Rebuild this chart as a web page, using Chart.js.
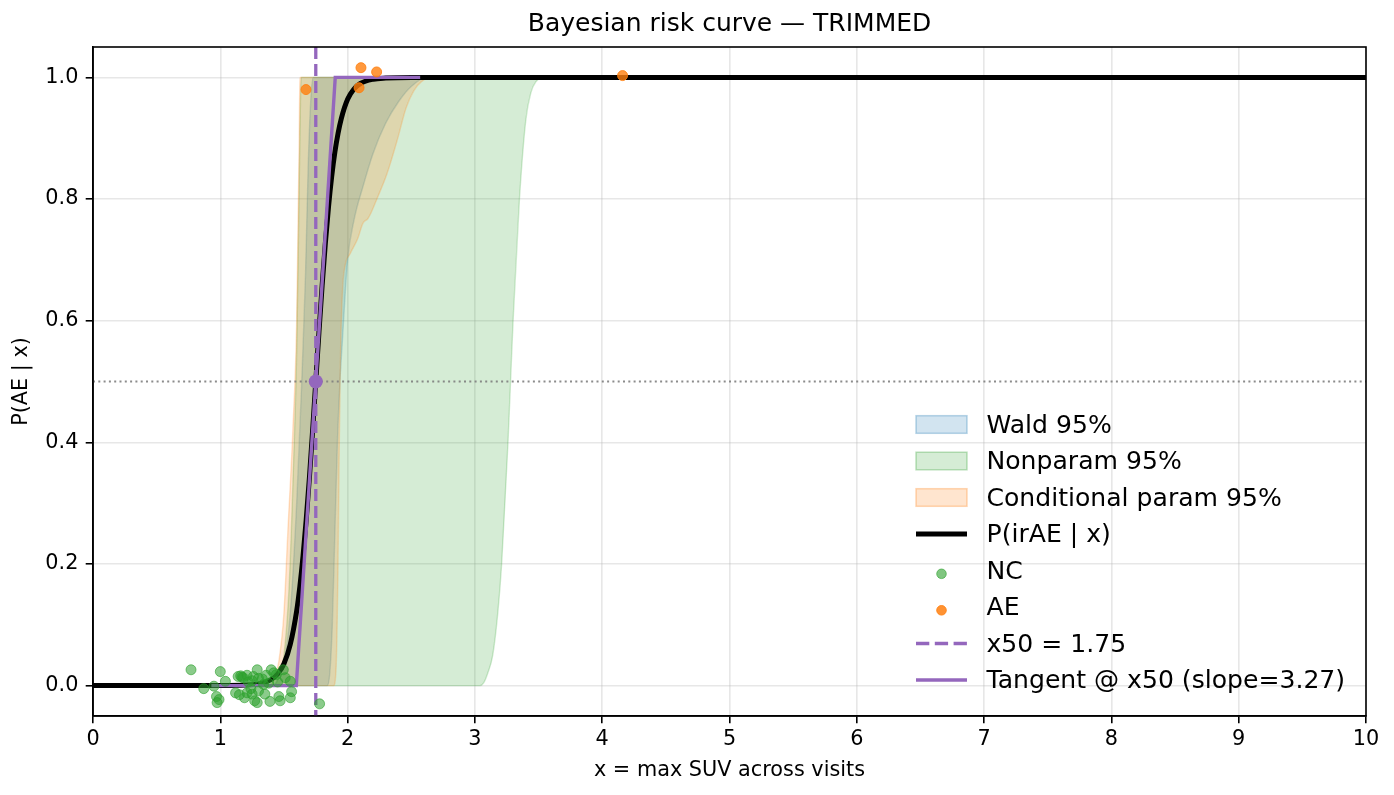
<!DOCTYPE html>
<html>
<head>
<meta charset="utf-8">
<script src="https://cdn.jsdelivr.net/npm/chart.js@4.4.1/dist/chart.umd.min.js"></script>
<style>
  html, body { margin: 0; padding: 0; background: #fff; }
  #wrap { position: relative; width: 1394px; height: 795px; overflow: hidden; }
  #c { position: absolute; left: 0; top: 0; }
  #handles { position: absolute; left: 0; top: 0; pointer-events: none; }
  .lg { position: absolute; left: 986.5px; height: 30px; line-height: 30px;
        font-family: "DejaVu Sans"; font-size: 25.1px; color: #000; white-space: nowrap; }
</style>
</head>
<body>
<div id="wrap">
  <canvas id="c" width="1394" height="795"></canvas>
  <svg id="handles" width="1394" height="795"></svg>
</div>
<script>
// ---------------- data ----------------
const titleText = "Bayesian risk curve — TRIMMED";
const xLabel = "x = max SUV across visits";
const yLabel = "P(AE | x)";
const xLimits = [0, 10];
const yLimits = [-0.05, 1.05];
const xTicks = [0, 1, 2, 3, 4, 5, 6, 7, 8, 9, 10];
const yTicks = [0.0, 0.2, 0.4, 0.6, 0.8, 1.0];

const x50 = 1.75;
const slopeAtX50 = 3.27;
const halfLevel = 0.5;

// posterior mean risk curve P(irAE | x)
const riskCurve = [
  [0, 0], [1.0, 0.0001], [1.2, 0.0008], [1.3, 0.0028], [1.35, 0.0053], [1.4, 0.010],
  [1.45, 0.019], [1.5, 0.036], [1.55, 0.068], [1.6, 0.123], [1.625, 0.163], [1.65, 0.213],
  [1.675, 0.273], [1.7, 0.342], [1.725, 0.419], [1.75, 0.5], [1.775, 0.581], [1.8, 0.658],
  [1.825, 0.727], [1.85, 0.787], [1.875, 0.837], [1.9, 0.877], [1.925, 0.908], [1.95, 0.932],
  [2.0, 0.964], [2.05, 0.981], [2.1, 0.990], [2.2, 0.997], [2.3, 0.999], [2.5, 1.0], [10, 1.0]
];

// Wald 95% band
const waldUpper = [
  [0, 0], [1.40, 0], [1.45, 0.01], [1.50, 0.04], [1.55, 0.12], [1.60, 0.30], [1.64, 0.50],
  [1.67, 0.68], [1.69, 0.85], [1.71, 0.96], [1.73, 1.0], [10, 1.0]
];
const waldLower = [
  [0, 0], [1.84, 0], [1.86, 0.02], [1.88, 0.10], [1.90, 0.25], [1.92, 0.40], [1.94, 0.50],
  [1.96, 0.57], [1.98, 0.64], [2.00, 0.70], [2.05, 0.765], [2.12, 0.82], [2.20, 0.875],
  [2.30, 0.925], [2.40, 0.96], [2.50, 0.985], [2.62, 1.0], [10, 1.0]
];

// Nonparametric 95% band
const nonparUpper = [
  [0, 0], [1.42, 0], [1.46, 0.015], [1.50, 0.05], [1.54, 0.16], [1.57, 0.33], [1.60, 0.55],
  [1.615, 0.75], [1.625, 0.90], [1.635, 1.0], [10, 1.0]
];
const nonparLower = [
  [0, 0], [3.04, 0], [3.07, 0.005], [3.10, 0.02], [3.14, 0.05], [3.18, 0.12], [3.21, 0.20],
  [3.26, 0.40], [3.28, 0.50], [3.30, 0.60], [3.35, 0.80], [3.40, 0.93], [3.44, 0.975],
  [3.48, 0.993], [3.55, 1.0], [10, 1.0]
];

// Conditional parametric 95% band
const condUpper = [
  [0, 0], [1.38, 0], [1.42, 0.01], [1.46, 0.04], [1.50, 0.12], [1.53, 0.25], [1.57, 0.42],
  [1.60, 0.60], [1.61, 0.75], [1.62, 0.90], [1.625, 1.0], [10, 1.0]
];
const condLower = [
  [0, 0], [1.89, 0], [1.91, 0.03], [1.925, 0.20], [1.935, 0.40], [1.945, 0.55], [1.96, 0.65],
  [1.98, 0.69], [2.02, 0.71], [2.08, 0.735], [2.12, 0.76], [2.16, 0.768], [2.19, 0.78],
  [2.23, 0.80], [2.31, 0.842], [2.39, 0.897], [2.46, 0.95], [2.52, 0.978], [2.58, 0.993],
  [2.67, 1.0], [10, 1.0]
];

// tangent at x50 (clipped to [0,1])
const tangentLine = [[0.93, 0], [1.597, 0], [1.903, 1], [2.57, 1]];

// observations (y jittered around 0 / 1)
const ncPoints = [
  [0.77, 0.026], [1.00, 0.023], [0.87, -0.005], [0.95, -0.001], [1.04, 0.007], [0.97, -0.018],
  [0.99, -0.023], [0.975, -0.028], [1.12, -0.012], [1.14, 0.015], [1.15, -0.015], [1.16, 0.016],
  [1.17, 0.014], [1.18, 0.013], [1.19, -0.020], [1.21, 0.017], [1.21, -0.012], [1.22, 0.006],
  [1.24, -0.005], [1.25, 0.008], [1.25, -0.014], [1.26, 0.015], [1.27, -0.025], [1.29, 0.026],
  [1.29, -0.028], [1.30, 0.012], [1.30, -0.009], [1.33, 0.011], [1.34, 0.002], [1.35, -0.014],
  [1.36, 0.017], [1.38, 0.004], [1.39, -0.026], [1.40, 0.026], [1.42, 0.021], [1.44, 0.018],
  [1.45, 0.006], [1.46, -0.018], [1.47, -0.025], [1.495, 0.026], [1.51, 0.013], [1.55, 0.007],
  [1.55, -0.020], [1.56, -0.010], [1.78, -0.030]
];
const aePoints = [[1.673, 0.980], [2.09, 0.983], [2.105, 1.016], [2.228, 1.009], [4.16, 1.003]];

// ---------------- colours ----------------
const C_BLUE = [31, 119, 180], C_GREEN = [44, 160, 44], C_ORANGE = [255, 127, 14];
const PURPLE = '#9467bd';
const rgba = (c, a) => `rgba(${c[0]},${c[1]},${c[2]},${a})`;
const pts = arr => arr.map(p => ({ x: p[0], y: p[1] }));

Chart.defaults.font.family = 'DejaVu Sans';
Chart.defaults.color = '#000';

const FONT_TICK = 20.8;

function band(lower, upper, col, order, lowerIndex) {
  return [
    { label: 'upper', data: pts(upper), borderColor: rgba(col, 0.22), borderWidth: 1.4,
      backgroundColor: rgba(col, 0.2), fill: lowerIndex, pointRadius: 0,
      cubicInterpolationMode: 'monotone', order: order },
    { label: 'lower', data: pts(lower), borderColor: rgba(col, 0.22), borderWidth: 1.4,
      backgroundColor: 'transparent', fill: false, pointRadius: 0,
      cubicInterpolationMode: 'monotone', order: order }
  ];
}

const datasets = [];
// indices: 0/1 wald, 2/3 nonpar, 4/5 cond
datasets.push(...band(waldLower, waldUpper, C_BLUE, 9, 1));
datasets.push(...band(nonparLower, nonparUpper, C_GREEN, 8, 3));
datasets.push(...band(condLower, condUpper, C_ORANGE, 7, 5));

datasets.push({ label: 'P(irAE | x)', data: pts(riskCurve), borderColor: '#000', borderWidth: 5,
  pointRadius: 0, fill: false, cubicInterpolationMode: 'monotone', order: 5 });
datasets.push({ label: 'half', data: [{ x: xLimits[0], y: halfLevel }, { x: xLimits[1], y: halfLevel }],
  borderColor: 'rgba(128,128,128,0.9)', borderWidth: 2, borderDash: [2, 3.3], pointRadius: 0,
  fill: false, order: 6 });
datasets.push({ label: 'x50', data: [{ x: x50, y: yLimits[1] }, { x: x50, y: yLimits[0] }],
  borderColor: PURPLE, borderWidth: 3.3, borderDash: [12, 5], pointRadius: 0, fill: false, order: 4 });
datasets.push({ label: 'Tangent', data: pts(tangentLine), borderColor: PURPLE, borderWidth: 3.4,
  pointRadius: 0, fill: false, order: 3 });
datasets.push({ label: 'NC', data: pts(ncPoints), showLine: false, pointRadius: 5, pointBorderWidth: 1,
  pointBackgroundColor: rgba(C_GREEN, 0.55), pointBorderColor: rgba(C_GREEN, 0.6), order: 2 });
datasets.push({ label: 'AE', data: pts(aePoints), showLine: false, pointRadius: 5, pointBorderWidth: 1,
  pointBackgroundColor: rgba(C_ORANGE, 0.8), pointBorderColor: rgba(C_ORANGE, 0.85), order: 1 });
datasets.push({ label: 'x50pt', data: [{ x: x50, y: halfLevel }], showLine: false, pointRadius: 7,
  pointBorderWidth: 0, pointBackgroundColor: PURPLE, order: 0 });

const framePlugin = {
  id: 'frame',
  afterDatasetsDraw(chart) {
    const { ctx, chartArea: a } = chart;
    ctx.save();
    ctx.strokeStyle = '#000';
    ctx.lineWidth = 1.6;
    ctx.strokeRect(a.left, a.top, a.right - a.left, a.bottom - a.top);
    ctx.restore();
  }
};

const gridOpts = { color: 'rgba(176,176,176,0.3)', lineWidth: 1.6, tickColor: '#000',
  tickLength: 7.3, tickWidth: 1.6, drawTicks: true };

new Chart(document.getElementById('c'), {
  type: 'line',
  data: { datasets },
  plugins: [framePlugin],
  options: {
    responsive: false,
    animation: false,
    events: [],
    layout: { padding: { left: 0, right: 28, top: 0, bottom: 0 } },
    plugins: {
      legend: { display: false },
      tooltip: { enabled: false },
      title: { display: true, text: titleText, color: '#000', fullSize: false,
        font: { size: 25, weight: 'normal', family: 'DejaVu Sans' },
        padding: { top: 9.5, bottom: 7.5 } }
    },
    scales: {
      x: {
        type: 'linear', min: xLimits[0], max: xLimits[1],
        afterBuildTicks: s => { s.ticks = xTicks.map(v => ({ value: v })); },
        afterFit: s => { s.height = 79; },
        ticks: { font: { size: FONT_TICK }, padding: 4.2, maxRotation: 0, autoSkip: false,
          callback: v => String(v) },
        grid: gridOpts,
        border: { display: true, color: '#000', width: 1.6 },
        title: { display: true, text: xLabel, font: { size: FONT_TICK }, padding: { top: 0, bottom: 12 } }
      },
      y: {
        type: 'linear', min: yLimits[0], max: yLimits[1],
        afterBuildTicks: s => { s.ticks = yTicks.map(v => ({ value: v })); },
        afterFit: s => { s.width = 93; },
        ticks: { font: { size: FONT_TICK }, padding: 7.3, autoSkip: false,
          callback: v => Number(v).toFixed(1) },
        grid: gridOpts,
        border: { display: true, color: '#000', width: 1.6 },
        title: { display: true, text: yLabel, font: { size: FONT_TICK }, padding: { top: 9.5, bottom: 0 } }
      }
    }
  }
});

// ---------------- legend (matplotlib style, inside the axes) ----------------
const legendEntries = [
  { text: 'Wald 95%', kind: 'patch', col: C_BLUE },
  { text: 'Nonparam 95%', kind: 'patch', col: C_GREEN },
  { text: 'Conditional param 95%', kind: 'patch', col: C_ORANGE },
  { text: 'P(irAE | x)', kind: 'line', color: '#000', width: 5 },
  { text: 'NC', kind: 'marker', col: C_GREEN, alpha: 0.6 },
  { text: 'AE', kind: 'marker', col: C_ORANGE, alpha: 0.85 },
  { text: 'x50 = ' + x50.toFixed(2), kind: 'dash', color: PURPLE, width: 3.5 },
  { text: 'Tangent @ x50 (slope=' + slopeAtX50.toFixed(2) + ')', kind: 'line', color: PURPLE, width: 3.6 }
];
const svgNS = 'http://www.w3.org/2000/svg';
const svg = document.getElementById('handles');
const wrap = document.getElementById('wrap');
const LG_TOP = 424.5, LG_STEP = 36.5, HX0 = 916, HX1 = 967;
legendEntries.forEach((e, i) => {
  const cy = LG_TOP + LG_STEP * i;
  let el;
  if (e.kind === 'patch') {
    el = document.createElementNS(svgNS, 'rect');
    el.setAttribute('x', HX0); el.setAttribute('y', cy - 8.8);
    el.setAttribute('width', HX1 - HX0); el.setAttribute('height', 17.6);
    el.setAttribute('fill', rgba(e.col, 0.2));
    el.setAttribute('stroke', rgba(e.col, 0.3)); el.setAttribute('stroke-width', 1.5);
  } else if (e.kind === 'marker') {
    el = document.createElementNS(svgNS, 'circle');
    el.setAttribute('cx', (HX0 + HX1) / 2); el.setAttribute('cy', cy + 3.3);
    el.setAttribute('r', 4.8);
    el.setAttribute('fill', rgba(e.col, e.alpha)); el.setAttribute('stroke', rgba(e.col, e.alpha));
    el.setAttribute('stroke-width', 1);
  } else {
    el = document.createElementNS(svgNS, 'line');
    el.setAttribute('x1', HX0); el.setAttribute('x2', HX1);
    el.setAttribute('y1', cy); el.setAttribute('y2', cy);
    el.setAttribute('stroke', e.color); el.setAttribute('stroke-width', e.width);
    if (e.kind === 'dash') el.setAttribute('stroke-dasharray', '13.3 5.5');
  }
  svg.appendChild(el);
  const t = document.createElement('div');
  t.className = 'lg';
  t.style.top = (cy - 15) + 'px';
  t.textContent = e.text;
  wrap.appendChild(t);
});
</script>
</body>
</html>
